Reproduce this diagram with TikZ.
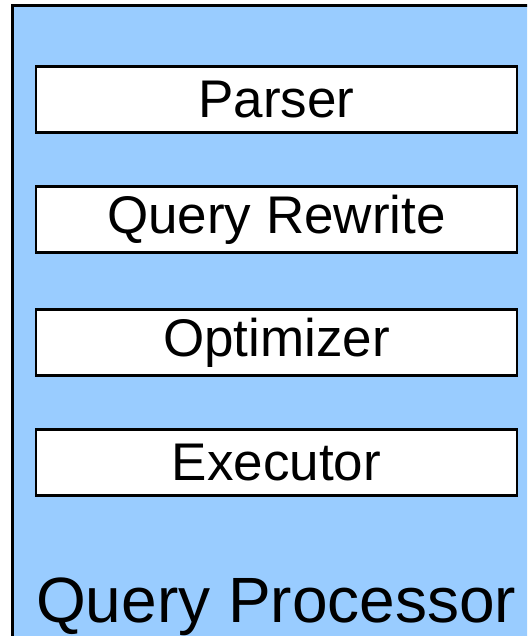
\documentclass[tikz,border=0pt]{standalone}
\usepackage{fontspec}
\setmainfont{Liberation Sans}
\usetikzlibrary{positioning}
\definecolor{qpblue}{HTML}{99CCFF}
\tikzset{
  stage/.style={rectangle, draw=black, fill=white, line width=2.5pt,
    minimum width=481pt, minimum height=66pt, inner sep=0pt,
    font=\fontsize{53}{60}\selectfont},
}

\begin{document}
\begin{tikzpicture}[x=1pt,y=-1pt]
    % page size, everything else is cut off
    \useasboundingbox (0,0) rectangle (527,636);
    \clip (0,0) rectangle (527,636);

    % big blue box (runs past the right and bottom edge)
    \filldraw[fill=qpblue, draw=black, line width=3pt]
    (12.5,5.5) rectangle (560,680);

    % stages
    \node[stage] (parser) at (276.5,99.5) {Parser};
    \node[stage] (rewrite) at (276.5,219.5) {Query Rewrite};
    \node[stage] (optimizer) at (276.5,342.5) {Optimizer};
    \node[stage] (executor) at (276.5,462.5) {Executor};

    \node[anchor=base west, inner sep=0pt, font=\fontsize{64}{72}\selectfont]
    (qp) at (36,622) {Query Processor};

\end{tikzpicture}
\end{document}
